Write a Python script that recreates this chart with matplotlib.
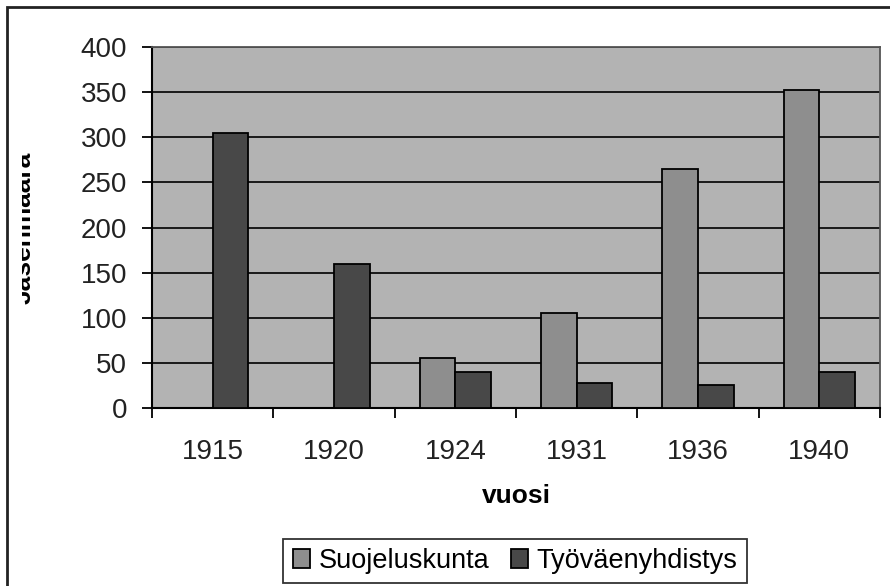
import matplotlib.pyplot as plt
import numpy as np
from matplotlib.patches import Rectangle
from matplotlib.transforms import Bbox

plt.rcParams['font.family'] = ['Liberation Sans', 'DejaVu Sans']

# Data
years = ["1915", "1920", "1924", "1931", "1936", "1940"]
suojeluskunta = [0, 0, 55, 105, 265, 352]
tyovaenyhdistys = [305, 160, 40, 28, 25, 40]

fig = plt.figure(figsize=(8.9, 5.86), dpi=100)
ax = fig.add_axes([152 / 890, 1 - 408 / 586, 728 / 890, 361 / 586])
ax.set_facecolor("#b3b3b3")

x = np.arange(len(years))
w = 0.295
ax.bar(x - w / 2, suojeluskunta, w, color="#8e8e8e", edgecolor="black",
       linewidth=1.3, label="Suojeluskunta", zorder=3)
ax.bar(x + w / 2, tyovaenyhdistys, w, color="#484848", edgecolor="black",
       linewidth=1.3, label="Työväenyhdistys", zorder=3)

ax.set_xlim(-0.5, len(years) - 0.5)
ax.set_ylim(0, 400)
ax.set_yticks(range(0, 401, 50))
ax.yaxis.grid(True, color="black", linewidth=1.2, zorder=1)
ax.set_axisbelow(True)

# category ticks at boundaries, labels in the middle
ax.set_xticks(np.arange(-0.5, len(years)), minor=False)
ax.set_xticklabels([])
ax.set_xticks(x, minor=True)
ax.set_xticklabels(years, minor=True)
ax.tick_params(axis="x", which="major", direction="out", length=7, width=1.3)
ax.tick_params(axis="x", which="minor", length=0, pad=22, labelsize=20,
               labelcolor="#222222")
ax.tick_params(axis="y", direction="out", length=7, width=1.3, pad=11,
               labelsize=20, labelcolor="#222222")

for s in ["left", "bottom"]:
    ax.spines[s].set_color("black")
    ax.spines[s].set_linewidth(1.5)
for s in ["top", "right"]:
    ax.spines[s].set_color("#555555")
    ax.spines[s].set_linewidth(1.3)

ax.set_xlabel("vuosi", fontsize=19, fontweight="bold", labelpad=14)

# y label, clipped on the left as in the source image
yl = fig.text(24 / 890, 1 - 228 / 586, "Jäsenmäärä", rotation=90, fontsize=19,
              fontweight="bold", ha="center", va="center")
yl.set_clip_box(Bbox([[22, 0], [890, 586]]))
yl.set_clip_on(True)

# outer chart frame
fig.patches.append(Rectangle((7 / 890, -0.1), 1.2, 1 - 7 / 586 + 0.1,
                             transform=fig.transFigure, fill=False,
                             edgecolor="#222222", linewidth=2))

leg = fig.legend(loc="center", bbox_to_anchor=(515 / 890, 1 - 561 / 586),
                 ncol=2, fontsize=19.5, frameon=True, fancybox=False,
                 handlelength=0.65, handleheight=0.65, handletextpad=0.3,
                 columnspacing=0.8, borderpad=0.35, borderaxespad=0)
leg.get_frame().set_edgecolor("black")
leg.get_frame().set_linewidth(1.3)

fig.savefig("out.png", dpi=100)
